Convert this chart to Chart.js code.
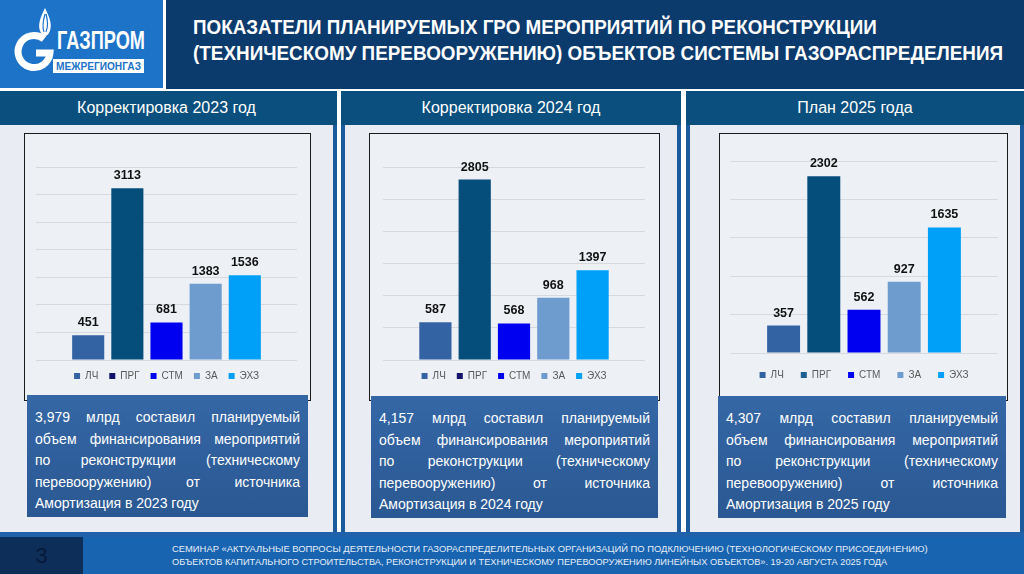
<!DOCTYPE html>
<html lang="ru">
<head>
<meta charset="utf-8">
<script src="https://cdn.jsdelivr.net/npm/chart.js@4.4.1/dist/chart.umd.min.js"></script>
<style>
  html, body { margin: 0; padding: 0; }
  body { width: 1024px; height: 574px; position: relative; overflow: hidden; background: #fff;
         font-family: "Liberation Sans", Arial, sans-serif; }
  .abs { position: absolute; }
  #logo { left: 0; top: 0; width: 163px; height: 88px; background: #1c73c8; }
  #title { left: 166px; top: 0; width: 858px; height: 89px; background: #0b3a6d; }
  .fit { position: absolute; white-space: nowrap; transform-origin: 0 50%; }
  .tline { left: 27px; color: #fff; font-weight: bold; font-size: 21px; line-height: 24px; }
  .panel { top: 91px; height: 441px; background: #e9edf3; border-left: 4px solid #1b5a9c;
           border-right: 4px solid #1b5a9c; box-sizing: border-box; }
  .phead { position: absolute; left: -4px; right: -4px; top: 0; height: 34px; background: #0a4f7e;
           color: #fff; font-size: 16px; text-align: center; line-height: 34px; }
  .cbox { top: 133px; height: 268px; border: 1.5px solid #1a1a1a; background: #edf1f6; box-sizing: border-box; }
  canvas.chart { position: absolute; top: 134px; }
  .tbox { height: 122px; background: linear-gradient(180deg, #3567a6, #2a5892); color: #fff; font-size: 14px;
          box-sizing: border-box; padding: 12px 8px 0 8px; }
  .tbox div { text-align: justify; text-align-last: justify; line-height: 21.5px; height: 21.5px; }
  .tbox div.last { text-align: left; text-align-last: left; }
  #stripe { left: 0; top: 532px; width: 1024px; height: 5px; background: #1f62ab; }
  #footer { left: 0; top: 537px; width: 1024px; height: 37px; background: #1864b0; }
  #pageno { left: 0; top: 537px; width: 83px; height: 37px; background: #0e2e5a; color: #08193a;
            font-size: 22px; text-align: center; line-height: 37px; }
  .fline { left: 172px; color: #e6eef8; font-size: 9.5px; line-height: 12px; }
</style>
</head>
<body>

<div id="logo" class="abs">
  <svg width="163" height="88" viewBox="0 0 163 88">
    <path d="M 44 39 A 16 16 0 1 0 50 53 L 36 53" fill="none" stroke="#fff" stroke-width="7"/>
    <path d="M 45 8 C 40 18, 37 26, 41 33 C 43 37, 47 37, 49 33 C 53 26, 50 18, 45 8 Z" fill="#fff"/>
    <path d="M 45 14 C 43 21, 42 27, 44 32 M 46 14 C 48 21, 48 27, 46 32" fill="none" stroke="#1c73c8" stroke-width="1.2"/>
    <text x="57" y="49" fill="#fff" font-family="Liberation Sans, Arial" font-weight="bold" font-size="25"
          textLength="88" lengthAdjust="spacingAndGlyphs">ГАЗПРОМ</text>
    <rect x="53" y="59" width="91" height="14" fill="#fff"/>
    <text x="56" y="70" fill="#1c73c8" font-family="Liberation Sans, Arial" font-weight="bold" font-size="10"
          textLength="85" lengthAdjust="spacingAndGlyphs">МЕЖРЕГИОНГАЗ</text>
  </svg>
</div>

<div id="title" class="abs">
  <div class="fit tline" data-w="684" style="top:15px">ПОКАЗАТЕЛИ ПЛАНИРУЕМЫХ ГРО МЕРОПРИЯТИЙ ПО РЕКОНСТРУКЦИИ</div>
  <div class="fit tline" data-w="810" style="top:41px">(ТЕХНИЧЕСКОМУ ПЕРЕВООРУЖЕНИЮ) ОБЪЕКТОВ СИСТЕМЫ ГАЗОРАСПРЕДЕЛЕНИЯ</div>
</div>

<div class="abs panel" style="left:-4px; width:341px"><div class="phead" id="head0"></div></div>
<div class="abs panel" style="left:341px; width:340px"><div class="phead" id="head1"></div></div>
<div class="abs panel" style="left:686px; width:338px"><div class="phead" id="head2"></div></div>

<div class="abs cbox" style="left:24px; width:287px"></div>
<div class="abs cbox" style="left:369px; width:291px"></div>
<div class="abs cbox" style="left:719px; width:289px"></div>

<canvas class="chart" id="chart0" width="284" height="258" style="left:25px"></canvas>
<canvas class="chart" id="chart1" width="288" height="258" style="left:370px"></canvas>
<canvas class="chart" id="chart2" width="286" height="258" style="left:720px"></canvas>

<div class="abs tbox" id="text0" style="left:27px; top:395px; width:281px"></div>
<div class="abs tbox" id="text1" style="left:371px; top:396px; width:287px"></div>
<div class="abs tbox" id="text2" style="left:718px; top:396px; width:288px"></div>

<div id="stripe" class="abs"></div>
<div id="footer" class="abs">
  <div class="fit fline" data-w="756" style="top:6px">СЕМИНАР «АКТУАЛЬНЫЕ ВОПРОСЫ ДЕЯТЕЛЬНОСТИ ГАЗОРАСПРЕДЕЛИТЕЛЬНЫХ ОРГАНИЗАЦИЙ ПО ПОДКЛЮЧЕНИЮ (ТЕХНОЛОГИЧЕСКОМУ ПРИСОЕДИНЕНИЮ)</div>
  <div class="fit fline" data-w="715" style="top:19px">ОБЪЕКТОВ КАПИТАЛЬНОГО СТРОИТЕЛЬСТВА, РЕКОНСТРУКЦИИ И ТЕХНИЧЕСКОМУ ПЕРЕВООРУЖЕНИЮ ЛИНЕЙНЫХ ОБЪЕКТОВ». 19-20 АВГУСТА 2025 ГОДА</div>
</div>
<div id="pageno" class="abs">3</div>

<script>
// Data
const series = ['ЛЧ', 'ПРГ', 'СТМ', 'ЗА', 'ЭХЗ'];
const values2023 = [451, 3113, 681, 1383, 1536];
const values2024 = [587, 2805, 568, 968, 1397];
const values2025 = [357, 2302, 562, 927, 1635];
const axisMax = [3500, 3000, 2500];
const axisStep = 500;
const panelTitles = ['Корректировка 2023 год', 'Корректировка 2024 год', 'План 2025 года'];
const panelYears = ['2023', '2024', '2025'];
const totals = ['3,979', '4,157', '4,307'];

// Styles
const seriesColors = ['#3463a4', '#054d7b', '#0000f0', '#6e9ccf', '#00a0f8'];
// the first two slides show a darker legend swatch for ПРГ
const legendPrg = ['#13136b', '#13136b', '#1d5f90'];

// value labels above bars
const barLabels = {
    id: 'barLabels',
    afterDatasetsDraw(chart) {
        const ctx = chart.ctx;
        ctx.save();
        ctx.font = 'bold 12.5px "Liberation Sans", Arial, sans-serif';
        ctx.fillStyle = '#111';
        ctx.textAlign = 'center';
        ctx.textBaseline = 'alphabetic';
        chart.data.datasets.forEach((ds, i) => {
            chart.getDatasetMeta(i).data.forEach((bar, j) => {
                ctx.fillText(ds.data[j], bar.x, bar.y - 9);
            });
        });
        ctx.restore();
    }
};

function makeChart(id, values, yMax, pad, legendPad, prgSwatch) {
    return new Chart(document.getElementById(id), {
        type: 'bar',
        data: {
            labels: [''],
            datasets: series.map((name, i) => ({
                label: name,
                data: [values[i]],
                backgroundColor: seriesColors[i],
                borderWidth: 0,
                categoryPercentage: 0.75,
                barPercentage: 0.82
            }))
        },
        options: {
            responsive: false,
            animation: false,
            layout: { padding: pad },
            plugins: {
                legend: {
                    position: 'bottom',
                    labels: {
                        boxWidth: 6,
                        boxHeight: 6,
                        padding: legendPad,
                        color: '#595959',
                        font: { size: 10, family: '"Liberation Sans", Arial, sans-serif' },
                        generateLabels(chart) {
                            const items = Chart.defaults.plugins.legend.labels.generateLabels(chart);
                            items[1].fillStyle = prgSwatch;
                            items.forEach(it => { it.lineWidth = 0; });
                            return items;
                        }
                    }
                },
                tooltip: { enabled: false }
            },
            scales: {
                x: { display: false },
                y: {
                    min: 0,
                    max: yMax,
                    ticks: { display: false, stepSize: axisStep },
                    border: { display: false },
                    grid: { color: '#d6d9de', drawTicks: false }
                }
            }
        },
        plugins: [barLabels]
    });
}

// headers and text boxes
panelTitles.forEach((t, i) => {
    document.getElementById('head' + i).textContent = t;
    const lines = [
        totals[i] + ' млрд составил планируемый',
        'объем финансирования мероприятий',
        'по реконструкции (техническому',
        'перевооружению) от источника',
        'Амортизация в ' + panelYears[i] + ' году'
    ];
    const box = document.getElementById('text' + i);
    lines.forEach((l, k) => {
        const d = document.createElement('div');
        d.textContent = l;
        if (k === lines.length - 1) d.className = 'last';
        box.appendChild(d);
    });
});

// squeeze condensed lines to their widths
document.querySelectorAll('.fit').forEach(el => {
    const w = +el.dataset.w;
    el.style.transform = 'scaleX(' + (w / el.scrollWidth) + ')';
});

makeChart('chart0', values2023, axisMax[0], { left: 11, right: 12, top: 33, bottom: 1 }, 11, legendPrg[0]);
makeChart('chart1', values2024, axisMax[1], { left: 13, right: 13, top: 33, bottom: 1 }, 11, legendPrg[1]);
makeChart('chart2', values2025, axisMax[2], { left: 10, right: 8, top: 27, bottom: 2 }, 17, legendPrg[2]);
</script>
</body>
</html>
